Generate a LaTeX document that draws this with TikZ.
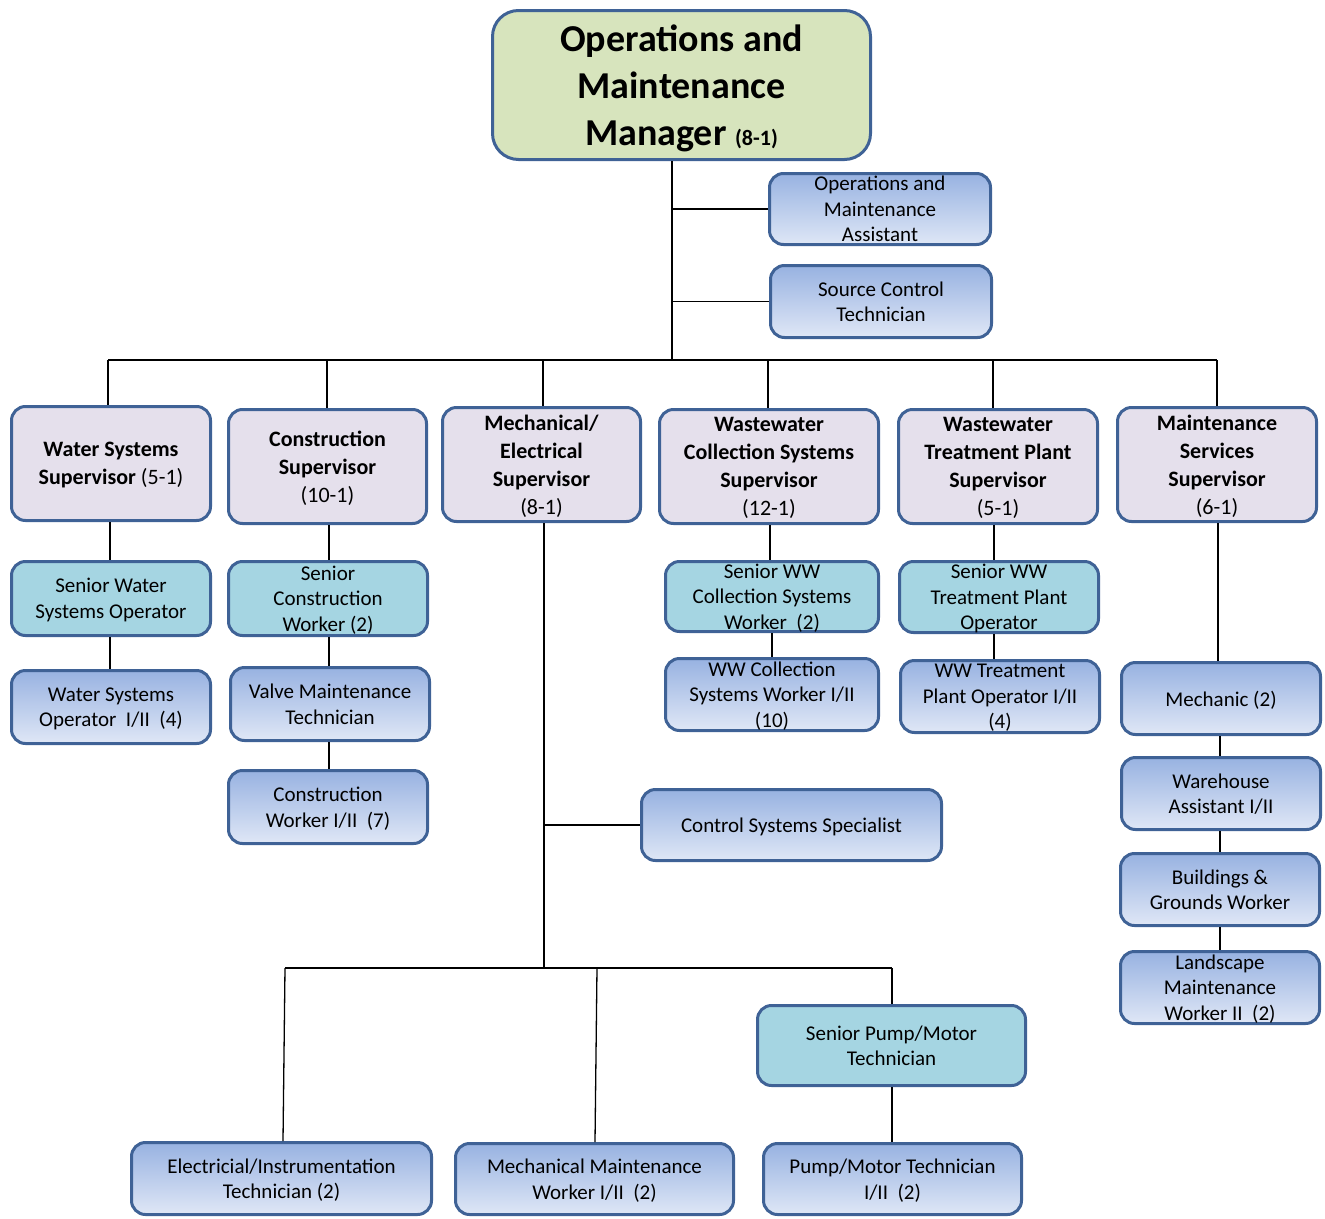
\documentclass[tikz,border=0pt]{standalone}
\usepackage{fontspec}
\setmainfont{Carlito}
\definecolor{bord}{RGB}{63,98,150}
\definecolor{mgrfill}{RGB}{215,228,189}
\definecolor{supfill}{RGB}{229,224,236}
\definecolor{senfill}{RGB}{165,213,226}
\definecolor{gradtop}{RGB}{152,178,225}
\definecolor{gradbot}{RGB}{223,231,246}
\tikzset{
 orgbox/.style={draw=bord, line width=3pt, rounded corners=14pt, align=center, inner sep=0pt, text depth=0pt},
 mgrbox/.style={orgbox, fill=mgrfill, rounded corners=26pt, font=\fontsize{38}{47}\selectfont\bfseries},
 supbox/.style={orgbox, fill=supfill, font=\fontsize{22}{28}\selectfont},
 senbox/.style={orgbox, fill=senfill, font=\fontsize{21}{25.5}\selectfont},
 stfbox/.style={orgbox, top color=gradtop, bottom color=gradbot, font=\fontsize{21}{25.5}\selectfont},
 link/.style={line width=1.3pt, draw=black},
 wh/.style 2 args={minimum width=#1pt-3pt, minimum height=#2pt-3pt}
}
\begin{document}
\begin{tikzpicture}[x=1pt,y=-1pt]
\useasboundingbox (0,0) rectangle (1325,1218);
% manager and staff
\node[mgrbox, wh={381}{152}] (mgr) at (681.5,85) {Operations and\\Maintenance\\Manager {\fontsize{22}{26}\selectfont(8-1)}};
\node[stfbox, wh={224}{74}] (oma) at (880,209) {Operations and\\Maintenance\\Assistant};
\node[stfbox, wh={224}{75}] (sct) at (881,301.5) {Source Control\\Technician};
% supervisors
\node[supbox, wh={202}{117}] (ws) at (111,463.5) {\textbf{Water Systems}\\\textbf{Supervisor} (5-1)};
\node[supbox, wh={201}{117}] (cs) at (327.5,466.5) {\textbf{Construction}\\\textbf{Supervisor}\\(10-1)};
\node[supbox, wh={201}{117}] (me) at (541.5,464.5) {\textbf{Mechanical/}\\\textbf{Electrical}\\\textbf{Supervisor}\\(8-1)};
\node[supbox, wh={222}{117}] (wwc) at (769,466.5) {\textbf{Wastewater}\\\textbf{Collection Systems}\\\textbf{Supervisor}\\(12-1)};
\node[supbox, wh={202}{117}] (wwt) at (998,466.5) {\textbf{Wastewater}\\\textbf{Treatment Plant}\\\textbf{Supervisor}\\(5-1)};
\node[supbox, wh={202}{117}] (mss) at (1217,464.5) {\textbf{Maintenance}\\\textbf{Services}\\\textbf{Supervisor}\\(6-1)};
% senior level
\node[senbox, wh={202}{77}] (swso) at (111,598.5) {Senior Water\\Systems Operator};
\node[senbox, wh={202}{77}] (scw) at (328,598.5) {Senior\\Construction\\Worker (2)};
\node[senbox, wh={216}{73}] (swwc) at (772,596.5) {Senior WW\\Collection Systems\\Worker\ \ (2)};
\node[senbox, wh={202}{74}] (swwt) at (999,597) {Senior WW\\Treatment Plant\\Operator};
\node[senbox, wh={271}{83}] (spm) at (891.5,1045.5) {Senior Pump/Motor\\Technician};
% staff level
\node[stfbox, wh={202}{76}] (wso) at (111,707) {Water Systems\\Operator\ \ I/II\ \ (4)};
\node[stfbox, wh={202}{76}] (vmt) at (330,704) {Valve Maintenance\\Technician};
\node[stfbox, wh={202}{76}] (cw) at (328,807) {Construction\\Worker I/II\ \ (7)};
\node[stfbox, wh={216}{75}] (wwcw) at (772,694.5) {WW Collection\\Systems Worker I/II\\(10)};
\node[stfbox, wh={202}{75}] (wwto) at (1000,696.5) {WW Treatment\\Plant Operator I/II\\(4)};
\node[stfbox, wh={202}{75}] (mech) at (1221,698.5) {Mechanic (2)};
\node[stfbox, wh={202}{75}] (wha) at (1221,793.5) {Warehouse\\Assistant I/II};
\node[stfbox, wh={202}{75}] (bgw) at (1220,889.5) {Buildings \&\\Grounds Worker};
\node[stfbox, wh={202}{75}] (lmw) at (1220,987.5) {Landscape\\Maintenance\\Worker II\ \ (2)};
\node[stfbox, wh={303}{74}] (css) at (791.5,825) {Control Systems Specialist};
\node[stfbox, wh={303}{75}] (eit) at (281.5,1178.5) {Electricial/Instrumentation\\Technician (2)};
\node[stfbox, wh={281}{74}] (mmw) at (594.5,1179) {Mechanical Maintenance\\Worker I/II\ \ (2)};
\node[stfbox, wh={261}{74}] (pmt) at (892.5,1179) {Pump/Motor Technician\\I/II\ \ (2)};
% column positions of the connectors
\coordinate (hub) at (672,360);
\coordinate (xws) at (110,0);
\coordinate (dws) at (108,0);
\coordinate (xcs) at (329,0);
\coordinate (dcs) at (327,0);
\coordinate (xme) at (544,0);
\coordinate (dme) at (543,0);
\coordinate (xwwc) at (770,0);
\coordinate (dwwc) at (768,0);
\coordinate (xwwt) at (994,0);
\coordinate (dwwt) at (993,0);
\coordinate (xmss) at (1218,0);
\coordinate (dmss) at (1217,0);
\coordinate (xmnt) at (1220,0);
% connectors
\draw[link] (mgr.south -| hub) -- (hub);
\draw[link] (oma.west -| hub) -- (oma.west);
\draw[link] (sct.west -| hub) -- (sct.west);
\draw[link] (hub -| dws) -- (hub -| dmss);
\foreach \s/\d in {ws/dws,cs/dcs,me/dme,wwc/dwwc,wwt/dwwt,mss/dmss}
  \draw[link] (hub -| \d) -- (\s.north -| \d);
\draw[link] (ws.south -| xws) -- (swso.north -| xws);
\draw[link] (swso.south -| xws) -- (wso.north -| xws);
\draw[link] (cs.south -| xcs) -- (scw.north -| xcs);
\draw[link] (scw.south -| xcs) -- (vmt.north -| xcs);
\draw[link] (vmt.south -| xcs) -- (cw.north -| xcs);
\draw[link] (wwc.south -| xwwc) -- (swwc.north -| xwwc);
\draw[link] (swwc.south) -- (wwcw.north);
\draw[link] (wwt.south -| xwwt) -- (swwt.north -| xwwt);
\draw[link] (swwt.south -| xwwt) -- (wwto.north -| xwwt);
\draw[link] (mss.south -| xmss) -- (mech.north -| xmss);
\draw[link] (mech.south -| xmnt) -- (wha.north -| xmnt);
\draw[link] (wha.south -| xmnt) -- (bgw.north -| xmnt);
\draw[link] (bgw.south -| xmnt) -- (lmw.north -| xmnt);
\coordinate (mehub) at (544,968);
\coordinate (b1) at (285,968);
\coordinate (b2) at (597,968);
\coordinate (b3) at (892,968);
\coordinate (e1) at (283,0);
\coordinate (e2) at (595,0);
\draw[link] (me.south -| xme) -- (mehub);
\draw[link] (css.west -| mehub) -- (css.west);
\draw[link] (b1) -- (b3);
\draw[link] (b1) -- (eit.north -| e1);
\draw[link] (b2) -- (mmw.north -| e2);
\draw[link] (b3) -- (spm.north -| b3);
\draw[link] (spm.south -| b3) -- (pmt.north -| b3);
\end{tikzpicture}
\end{document}
